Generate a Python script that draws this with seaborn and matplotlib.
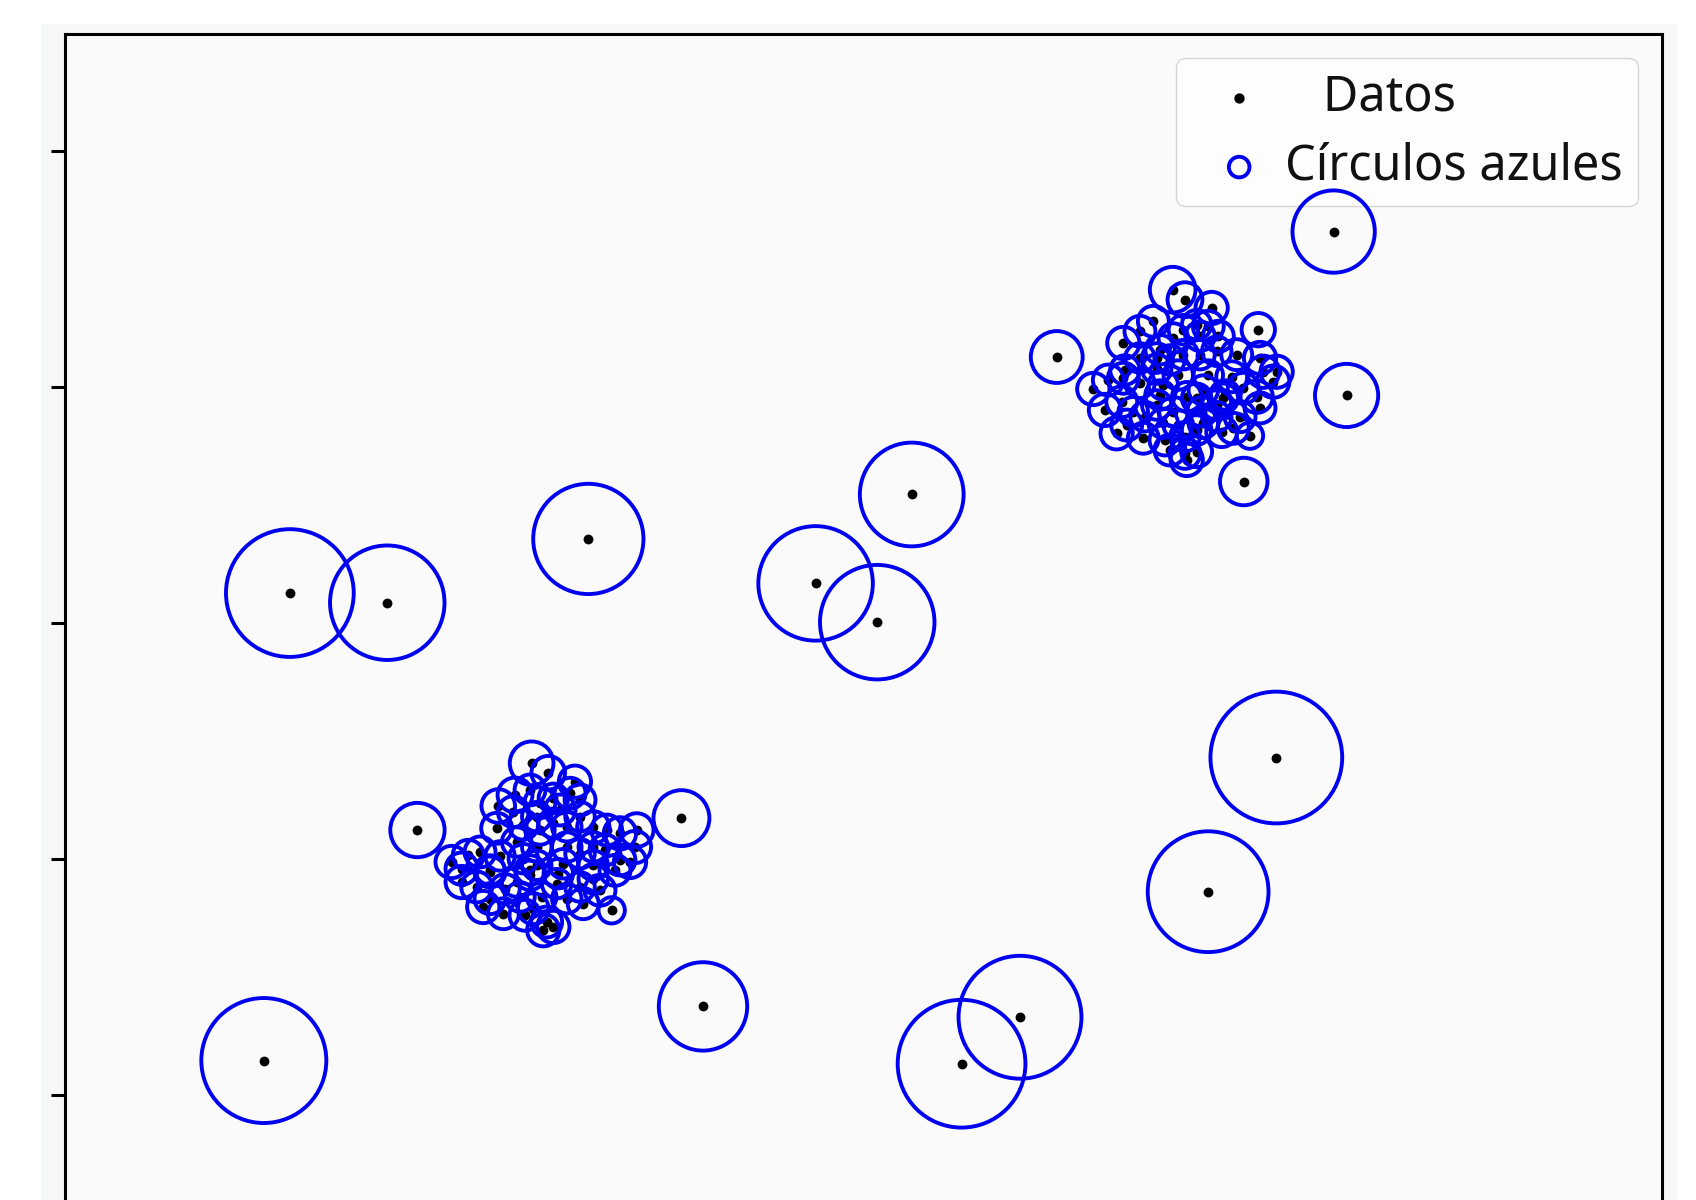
import numpy as np
import pandas as pd
import matplotlib
matplotlib.use("Agg")
import matplotlib.pyplot as plt
from matplotlib.patches import Rectangle
import seaborn as sns

# ---------------- data ----------------
upper_x = [1.936, 2.013, 2.180, 1.815, 1.731, 1.627, 2.003, 2.107, 2.222, 2.159,
           2.472, 1.857, 1.731, 2.337, 2.483, 2.107, 1.971, 1.533, 1.439, 1.731,
           1.836, 2.159, 2.306, 2.128, 2.086, 2.462, 2.503, 1.512, 1.617, 1.689,
           1.763, 1.940, 2.118, 2.212, 2.358, 1.971, 1.585, 1.752, 1.888, 2.013,
           2.086, 2.243, 2.420, 2.013, 2.086, 2.024, 2.483, 2.587, 1.857, 2.264,
           1.637, 1.919,
           2.086, 1.940, 2.212, 2.003, 1.836, 1.627, 1.877, 2.024, 2.253, 2.378,
           2.566, 1.836, 2.212, 1.648, 1.877, 2.128, 2.316, 1.919]
upper_y = [2.827, 2.742, 2.672, 2.559, 2.474, 2.375, 2.488, 2.432, 2.432, 2.517,
           2.488, 2.318, 2.248, 2.276, 2.248, 2.276, 2.103, 2.061, 1.985, 2.033,
           2.154, 2.103, 2.089, 1.976, 1.906, 1.919, 2.131, 1.807, 1.877, 1.792,
           1.750, 1.792, 1.792, 1.750, 1.750, 1.679, 1.609, 1.567, 1.552, 1.580,
           1.637, 1.623, 1.589, 1.439, 1.453, 1.383, 1.824, 2.131, 1.934, 1.934,
           2.146, 2.231,
           2.530, 2.417, 2.305, 2.276, 2.248, 2.076, 2.019, 1.919, 1.906, 1.991,
           2.047, 1.849, 1.849, 1.679, 1.694, 1.694, 1.651, 1.467]
upper_score = [0.12, 0.07, 0.06, 0.055, 0.055, 0.06, 0.05, 0.05, 0.055, 0.055,
               0.064, 0.05, 0.05, 0.055, 0.06, 0.05, 0.05, 0.055, 0.06, 0.05,
               0.05, 0.05, 0.055, 0.05, 0.05, 0.06, 0.06, 0.06, 0.055, 0.05,
               0.05, 0.05, 0.05, 0.05, 0.055, 0.05, 0.06, 0.055, 0.055, 0.05,
               0.05, 0.055, 0.04, 0.055, 0.055, 0.06, 0.055, 0.06, 0.05, 0.05,
               0.05, 0.05,
               0.05, 0.05, 0.05, 0.05, 0.05, 0.055, 0.05, 0.05, 0.05, 0.055,
               0.06, 0.05, 0.05, 0.055, 0.05, 0.05, 0.055, 0.055]

lower_x = [-2.078, -1.974, -1.807, -2.182, -2.287, -2.026, -1.900, -1.775, -1.692, -2.193,
           -2.130, -2.297, -1.525, -1.420, -2.026, -2.579, -2.475, -2.276, -2.046, -2.172,
           -1.858, -1.692, -1.431, -1.880, -1.775, -1.556, -2.516, -2.422, -2.245, -2.172,
           -2.015, -1.921, -1.911, -1.775, -1.650, -1.755, -1.577, -2.381, -2.255, -2.120,
           -1.984, -1.942, -2.005, -1.858, -1.525, -2.088, -2.339, -1.619,
           -2.088, -1.942, -1.837, -2.046, -1.775, -1.942, -1.608, -2.401, -2.130, -2.046,
           -1.692, -1.462, -2.339, -2.088, -1.692, -2.339, -2.151, -1.858, -2.068, -2.516]
lower_y = [-1.190, -1.270, -1.346, -1.459, -1.552, -1.524, -1.586, -1.501, -1.733, -1.600,
           -1.713, -1.741, -1.784, -1.756, -1.756, -2.027, -1.970, -1.976, -1.900, -1.858,
           -1.900, -1.900, -1.900, -2.042, -1.957, -2.098, -2.197, -2.239, -2.254, -2.197,
           -2.324, -2.211, -2.126, -2.239, -2.267, -2.381, -2.437, -2.409, -2.466, -2.479,
           -2.536, -2.578, -2.606, -1.728, -2.010, -2.095, -2.095, -1.925,
           -1.416, -1.487, -1.444, -1.643, -1.643, -1.699, -1.756, -1.942, -1.999, -2.055,
           -2.055, -2.027, -2.112, -2.140, -2.169, -2.338, -2.324, -2.338, -2.423, -2.084]
lower_score = [0.11, 0.065, 0.06, 0.07, 0.065, 0.055, 0.055, 0.055, 0.06, 0.055,
               0.05, 0.055, 0.06, 0.065, 0.05, 0.06, 0.055, 0.05, 0.05, 0.05,
               0.05, 0.05, 0.06, 0.05, 0.05, 0.055, 0.06, 0.055, 0.05, 0.05,
               0.05, 0.05, 0.05, 0.05, 0.055, 0.055, 0.04, 0.06, 0.055, 0.055,
               0.055, 0.06, 0.06, 0.05, 0.055, 0.05, 0.05, 0.055,
               0.055, 0.05, 0.055, 0.05, 0.05, 0.05, 0.055, 0.055, 0.05, 0.05,
               0.05, 0.06, 0.055, 0.05, 0.05, 0.055, 0.05, 0.05, 0.055, 0.06]

outlier_x = [2.944, 3.025, 1.210, 2.381, 0.302, -1.723, -3.592, -2.982, -0.300, 0.086,
             2.585, 2.158, -1.140, -2.793, -1.005, -3.755, 0.980, 0.614]
outlier_y = [3.320, 1.930, 2.256, 1.200, 1.090, 0.713, 0.254, 0.172, 0.336, 0.007,
             -1.141, -2.279, -1.655, -1.756, -3.252, -3.711, -3.344, -3.738]
outlier_score = [0.39, 0.23, 0.155, 0.13, 0.62, 0.70, 0.94, 0.755, 0.755, 0.755,
                 1.00, 0.84, 0.18, 0.17, 0.45, 0.90, 0.87, 0.94]

label_points = "   Datos"
label_circles = "Círculos azules"

df = pd.DataFrame({
    "x": upper_x + lower_x + outlier_x,
    "y": upper_y + lower_y + outlier_y,
    "score": upper_score + lower_score + outlier_score,
})

# ---------------- styling ----------------
sns.set_style("white")
plt.rcParams["font.family"] = ["Noto Sans", "DejaVu Sans"]

W, H = 1696, 1200
fig = plt.figure(figsize=(W / 100, H / 100), dpi=100, facecolor="white")
fig.patches.append(Rectangle((41 / W, 0), (1678 - 41) / W, 1 - 24 / H,
                             transform=fig.transFigure, facecolor="#f6f7f7",
                             edgecolor="none", zorder=-10))

top_px, bot_px, left_px, right_px = 33.5, 1212.5, 65, 1662
ax = fig.add_axes([left_px / W, 1 - bot_px / H, (right_px - left_px) / W,
                   (bot_px - top_px) / H])
ax.set_facecolor("#fafafa")

sns.scatterplot(data=df, x="x", y="y", color="black", s=50, linewidth=0,
                ax=ax, label=label_points, legend=False, zorder=2)
sns.scatterplot(data=df, x="x", y="y", size="score", sizes=(0, 9000),
                size_norm=(0, 1), facecolor="none", edgecolor="#0000f0",
                linewidth=2.8, ax=ax, label=label_circles, legend=False, zorder=3)

ax.set_xlim(-5, 5)
ax.set_ylim(-5, 5)
ax.set_yticks([-4, -2, 0, 2, 4])
ax.set_xlabel("")
ax.set_ylabel("")
ax.tick_params(axis="y", left=True, length=10, width=2.2, color="black",
               labelleft=False)
ax.tick_params(axis="x", bottom=False, labelbottom=False)
for sp in ax.spines.values():
    sp.set_color("black")
    sp.set_linewidth(2.2)

leg = ax.legend(loc="upper right", fontsize=35, scatterpoints=1,
                handlelength=2.0, handletextpad=-0.05, borderpad=0.3,
                labelspacing=0.4, labelcolor="#111111")
leg.legend_handles[0].set_sizes([55])
leg.legend_handles[1].set_sizes([220])
leg.set_zorder(2.5)

fig.savefig("out.png", dpi=100, facecolor=fig.get_facecolor())
